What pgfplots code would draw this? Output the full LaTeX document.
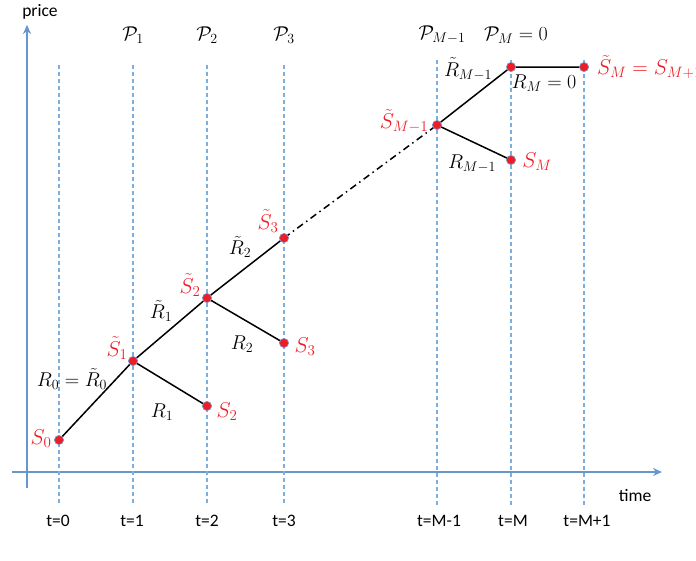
\RequirePackage{fix-cm}
\documentclass[border=0pt]{standalone}
\usepackage[no-math]{fontspec}
\usepackage{amsmath}
\usepackage{pgfplots}
\pgfplotsset{compat=1.18}
\usetikzlibrary{arrows.meta}
\newfontfamily\carlito{Carlito}
\definecolor{axblue}{RGB}{100,152,205}
\definecolor{gridblue}{RGB}{125,175,222}
\definecolor{ptred}{RGB}{238,28,36}
\definecolor{halo}{RGB}{125,150,195}
\tikzset{
  vline/.style={gridblue, line width=1.1pt, dash pattern=on 4pt off 3pt},
  seg/.style={black, line width=1.5pt},
  lab/.style={font=\fontsize{20}{23}\selectfont, inner sep=1pt},
  plab/.style={font=\fontsize{20}{23}\selectfont, inner sep=1pt},
  slab/.style={text=ptred, font=\fontsize{21.5}{25}\selectfont, inner sep=1pt},
  tlab/.style={font=\carlito\fontsize{17.5}{20}\selectfont},
}
\begin{document}
\begin{tikzpicture}
\begin{axis}[
  scale only axis, width=696pt, height=560pt,
  xmin=0, xmax=696, ymin=0, ymax=560, y dir=reverse,
  hide axis, clip=false,
]
% axes
\addplot[axblue, line width=2pt, -{Stealth[length=9pt,width=8pt]}] coordinates {(27,488) (27,25)};
\addplot[axblue, line width=2pt, -{Stealth[length=9pt,width=8pt]}] coordinates {(12,472) (662,472)};
% time lines
\addplot[vline] coordinates {(59,65) (59,505)};
\addplot[vline] coordinates {(133,65) (133,505)};
\addplot[vline] coordinates {(207,65) (207,505)};
\addplot[vline] coordinates {(284,65) (284,505)};
\addplot[vline] coordinates {(437,60) (437,505)};
\addplot[vline] coordinates {(511,60) (511,505)};
\addplot[vline] coordinates {(584,60) (584,505)};
% price path
\addplot[seg] coordinates {(59,440) (133,361) (207,298) (284,238)};
\addplot[seg] coordinates {(133,361) (207,406)};
\addplot[seg] coordinates {(207,298) (284,343)};
\addplot[black, line width=1.5pt, dash pattern=on 7pt off 4pt on 1.5pt off 4pt] coordinates {(284,238) (437,125)};
\addplot[seg] coordinates {(437,125) (511,67) (584,67)};
\addplot[seg] coordinates {(437,125) (511,160)};
% points
\addplot[only marks, mark=*, mark size=4.6pt, mark options={fill=ptred, draw=halo, line width=0.7pt}] coordinates {
  (59,440) (133,361) (207,406) (207,298) (284,343) (284,238)
  (437,125) (511,160) (511,67) (584,67)};
% labels
\node[slab] at (41,439) {$S_0$};
\node[slab] at (117,348) {$\tilde S_1$};
\node[slab] at (227,412) {$S_2$};
\node[slab] at (190,285) {$\tilde S_2$};
\node[slab] at (305,347) {$S_3$};
\node[slab] at (268,221) {$\tilde S_3$};
\node[slab] at (404,121) {$\tilde S_{M-1}$};
\node[slab] at (537,162) {$S_M$};
\node[slab, anchor=west] at (596,67) {$\tilde S_M = S_{M+1}$};
\node[lab] at (72,379) {$R_0=\tilde R_0$};
\node[lab] at (162,412) {$R_1$};
\node[lab] at (161,311) {$\tilde R_1$};
\node[lab] at (242,344) {$R_2$};
\node[lab] at (240,247) {$\tilde R_2$};
\node[lab] at (468,69) {$\tilde R_{M-1}$};
\node[lab] at (544,83) {$R_M=0$};
\node[lab] at (472,164) {$R_{M-1}$};
\node[plab] at (133,35) {$\mathcal{P}_1$};
\node[plab] at (207,35) {$\mathcal{P}_2$};
\node[plab] at (284,35) {$\mathcal{P}_3$};
\node[plab] at (442,35) {$\mathcal{P}_{M-1}$};
\node[plab] at (516,35) {$\mathcal{P}_M=0$};
\node[tlab] at (40,12) {price};
\node[tlab] at (635,496) {time};
\node[tlab] at (58,521) {t=0};
\node[tlab] at (132,521) {t=1};
\node[tlab] at (207,521) {t=2};
\node[tlab] at (284,521) {t=3};
\node[tlab] at (439,521) {t=M-1};
\node[tlab] at (513,521) {t=M};
\node[tlab] at (587,521) {t=M+1};
\end{axis}
\pgfresetboundingbox
\useasboundingbox (0,0) rectangle (696pt,560pt);
\end{tikzpicture}
\end{document}
